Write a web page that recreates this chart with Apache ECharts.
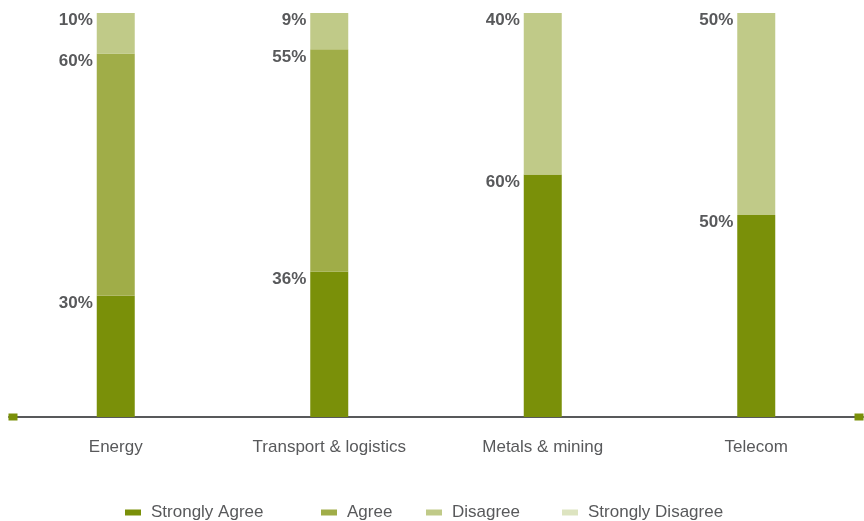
<!DOCTYPE html>
<html>
<head>
<meta charset="utf-8">
<script src="https://cdn.jsdelivr.net/npm/echarts@6/dist/echarts.min.js"></script>
<style>
  html, body { margin: 0; padding: 0; background: #ffffff; }
  #chart { width: 864px; height: 521px; }
</style>
</head>
<body>
<div id="chart"></div>
<script>
// Survey responses by sector (percent of respondents)
const sectors = ['Energy', 'Transport & logistics', 'Metals & mining', 'Telecom'];
const stronglyAgree = [30, 36, 60, 50];
const agree = [60, 55, 0, 0];
const disagree = [10, 9, 40, 50];
const stronglyDisagree = [0, 0, 0, 0];

const seriesNames = ['Strongly Agree', 'Agree', 'Disagree', 'Strongly Disagree'];
const seriesColors = ['#7a9009', '#a0ad48', '#c0ca88', '#dde4c0'];
const seriesValues = [stronglyAgree, agree, disagree, stronglyDisagree];

const textGrey = '#58595b';
const fontFamily = '"Liberation Sans", Arial, sans-serif';

const chart = echarts.init(document.getElementById('chart'), null, { renderer: 'canvas' });

const series = seriesNames.map((name, i) => ({
  name: name,
  type: 'bar',
  stack: 'total',
  barWidth: 38,
  itemStyle: { color: seriesColors[i] },
  data: seriesValues[i],
  label: {
    show: i < 3,
    position: [-4, -1],
    align: 'right',
    verticalAlign: 'top',
    color: textGrey,
    fontFamily: fontFamily,
    fontWeight: 'bold',
    fontSize: 17,
    formatter: p => (p.value > 0 ? p.value + '%' : '')
  }
}));

// one legend block per entry so each sits at its own spot
const legendLefts = [125, 321, 426, 562];
const legends = seriesNames.map((name, i) => ({
  data: [name],
  left: legendLefts[i],
  top: 504,
  padding: 0,
  itemWidth: 16,
  itemHeight: 6,
  icon: 'rect',
  textStyle: {
    color: textGrey,
    fontFamily: fontFamily,
    fontSize: 17,
    padding: [0, 0, 0, 5]
  }
}));

chart.setOption({
  animation: false,
  backgroundColor: '#ffffff',
  grid: { left: 9, right: 1, top: 13, bottom: 104, containLabel: false },
  legend: legends,
  xAxis: [
    {
      type: 'category',
      data: sectors,
      axisTick: { show: false },
      axisLine: { show: true, lineStyle: { color: '#58595b', width: 2 } },
      axisLabel: {
        color: textGrey,
        fontFamily: fontFamily,
        fontSize: 17,
        margin: 22
      }
    },
    {
      // green end caps on the baseline
      type: 'category',
      data: sectors,
      position: 'bottom',
      axisTick: { show: false },
      axisLabel: { show: false },
      axisLine: {
        show: true,
        symbol: ['rect', 'rect'],
        symbolSize: [7, 9],
        symbolOffset: [4, -4],
        lineStyle: { color: '#7a9009', width: 0 }
      }
    }
  ],
  yAxis: {
    type: 'value',
    min: 0,
    max: 100,
    show: false,
    splitLine: { show: false }
  },
  series: series
});
</script>
</body>
</html>
